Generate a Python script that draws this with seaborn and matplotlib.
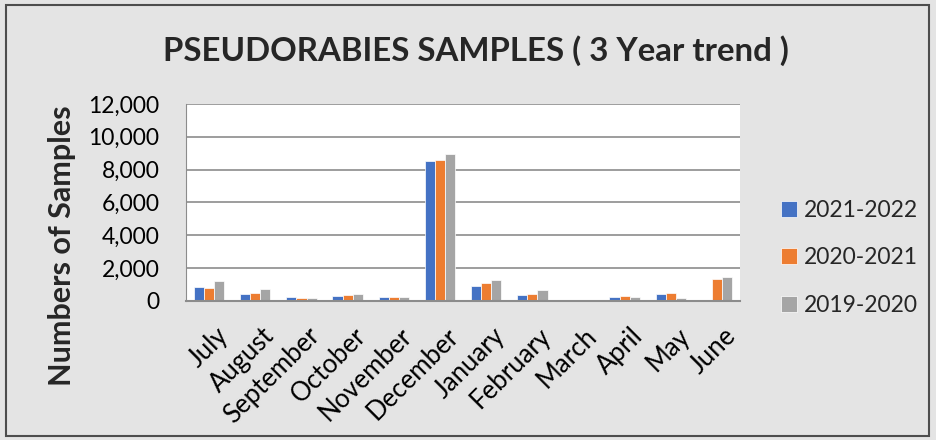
import matplotlib
matplotlib.use("Agg")
import matplotlib.pyplot as plt
import matplotlib.transforms as mtransforms
import seaborn as sns
import pandas as pd
from matplotlib.patches import Rectangle
from matplotlib.ticker import FuncFormatter

months = ["July", "August", "September", "October", "November", "December",
          "January", "February", "March", "April", "May", "June"]
seasons = ["2021-2022", "2020-2021", "2019-2020"]
s2122 = [835, 390, 226, 268, 244, 8500, 878, 329, 30, 226, 409, 0]
s2021 = [756, 470, 165, 348, 207, 8600, 1098, 390, 20, 287, 488, 1323]
s1920 = [1183, 695, 165, 427, 207, 8965, 1280, 652, 10, 226, 165, 1445]
colors = ["#4472C4", "#ED7D31", "#A5A5A5"]

df = pd.DataFrame({
    "month": months * 3,
    "season": [s for s in seasons for _ in months],
    "samples": s2122 + s2021 + s1920,
})

sns.set_style("white")
plt.rcParams["font.family"] = ["Lato", "DejaVu Sans"]

bg = "#e4e4e4"
fig = plt.figure(figsize=(9.36, 4.4), dpi=100, facecolor=bg)
ax = fig.add_axes([0.1987, 0.3166, 0.592, 0.4470])

sns.barplot(data=df, x="month", y="samples", hue="season", order=months,
            hue_order=seasons, palette=colors, saturation=1, width=0.66,
            gap=0.0, edgecolor="white", linewidth=0.5, ax=ax)

ax.set_ylim(0, 12000)
ax.set_yticks(range(0, 12001, 2000))
ax.yaxis.set_major_formatter(FuncFormatter(lambda v, p: f"{int(v):,}"))
ax.grid(axis="y", color="#8c8c8c", linewidth=1.2)
ax.set_axisbelow(True)
for side in ["top", "right"]:
    ax.spines[side].set_visible(False)
ax.spines["left"].set_color("#8c8c8c")
ax.spines["bottom"].set_color("#8c8c8c")
ax.spines["bottom"].set_linewidth(1.5)
ax.set_xlim(-0.5, 11.5)
ax.tick_params(axis="y", length=0, labelsize=16.5, colors="black", pad=19)
ax.tick_params(axis="x", length=0, labelsize=18.5, colors="black", pad=16)
shift = mtransforms.ScaledTranslation(6 / 100, 0, fig.dpi_scale_trans)
for lbl in ax.get_xticklabels():
    lbl.set_rotation(45)
    lbl.set_ha("right")
    lbl.set_rotation_mode("anchor")
    lbl.set_transform(lbl.get_transform() + shift)
ax.set_xlabel("")
ax.set_ylabel("")
fig.text(62 / 936, (440 - 246) / 440, "Numbers of Samples", rotation=90,
         ha="center", va="center", fontsize=22, fontweight="bold")

fig.suptitle("PSEUDORABIES SAMPLES ( 3 Year trend )", x=0.508, y=0.886,
             va="center", fontsize=23.8, fontweight="bold")

handles, labels = ax.get_legend_handles_labels()
ax.legend_.remove()
fig.legend(handles, labels, loc="center left", bbox_to_anchor=(0.812, 0.414),
           frameon=False, fontsize=16.5, handlelength=0.7, handleheight=0.7,
           handletextpad=0.3, labelspacing=1.15)

fig.patches.append(Rectangle((6 / 936, 4 / 440), 923 / 936, 431 / 440,
                             transform=fig.transFigure, fill=False,
                             edgecolor="#4d4d4d", linewidth=1.5))

fig.savefig("out.png", dpi=100, facecolor=bg)
